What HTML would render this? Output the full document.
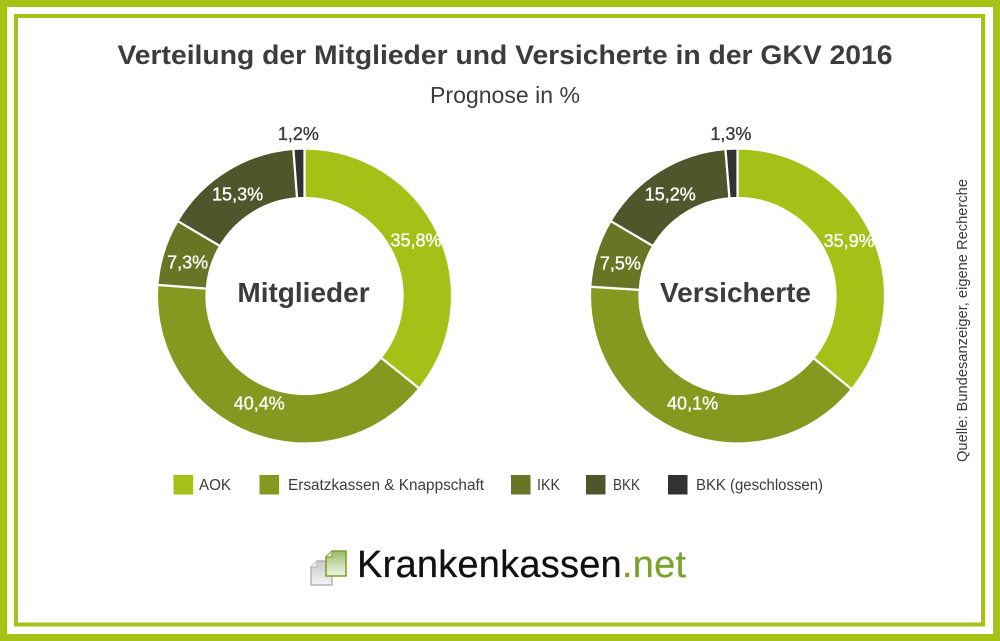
<!DOCTYPE html>
<html lang="de">
<head>
<meta charset="utf-8">
<title>Verteilung der Mitglieder und Versicherte in der GKV 2016</title>
<style>
html,body{margin:0;padding:0;background:#fff;width:1000px;height:641px;overflow:hidden}
svg{display:block}
text{font-family:"Liberation Sans",sans-serif}
</style>
</head>
<body>
<svg id="chart" width="1000" height="641" viewBox="0 0 1000 641" xmlns="http://www.w3.org/2000/svg">
  <defs>
    <linearGradient id="greenDoc" x1="0" y1="0" x2="0" y2="1"><stop offset="0" stop-color="#9dbb6c"/><stop offset="1" stop-color="#f2f6e8"/></linearGradient>
    <linearGradient id="greyDoc" x1="0" y1="0" x2="0" y2="1"><stop offset="0" stop-color="#c9c9c9"/><stop offset="1" stop-color="#f4f4f4"/></linearGradient>
  </defs>
  <rect width="1000" height="641" fill="#fff"/>
  <rect x="3.5" y="3.5" width="993" height="634" fill="none" stroke="#a5c316" stroke-width="7"/>
  <rect x="16" y="16" width="967" height="608.5" fill="none" stroke="#a5c316" stroke-width="4"/>

  <text x="505" y="64" text-anchor="middle" font-size="27" font-weight="700" fill="#3c3c3b" textLength="775" lengthAdjust="spacingAndGlyphs">Verteilung der Mitglieder und Versicherte in der GKV 2016</text>
  <text x="505" y="103" text-anchor="middle" font-size="23.5" fill="#3c3c3b" textLength="150" lengthAdjust="spacingAndGlyphs">Prognose in %</text>

  <g id="donuts"></g>
  <g id="legend"></g>

  <text transform="translate(967,462) rotate(-90)" font-size="14.5" fill="#3c3c3b" textLength="283" lengthAdjust="spacingAndGlyphs">Quelle: Bundesanzeiger, eigene Recherche</text>

  <g>
    <g>
      <path d="M317 561h15v24h-21v-18z" fill="url(#greyDoc)" stroke="#b4b4b4" stroke-width="1.5"/>
      <path d="M311 567h6v-6" fill="#eee" stroke="#b4b4b4" stroke-width="1"/>
      <path d="M332 551h14v25h-20v-19z" fill="url(#greenDoc)" stroke="#7f9f2c" stroke-width="1.6"/>
      <path d="M326 557h6v-6" fill="#dfe9c5" stroke="#7f9f2c" stroke-width="1"/>
    </g>
    <text x="357" y="577" font-size="38" fill="#111" stroke="#111" stroke-width="0.25" textLength="329" lengthAdjust="spacing">Krankenkassen<tspan fill="#7ba22e" stroke="#7ba22e">.net</tspan></text>
  </g>
</svg>
<script>
var categories = ["AOK", "Ersatzkassen & Knappschaft", "IKK", "BKK", "BKK (geschlossen)"];
var mitgliederValues = [35.8, 40.4, 7.3, 15.3, 1.2];
var versicherteValues = [35.9, 40.1, 7.5, 15.2, 1.3];
var mitgliederLabels = ["35,8%", "40,4%", "7,3%", "15,3%", "1,2%"];
var versicherteLabels = ["35,9%", "40,1%", "7,5%", "15,2%", "1,3%"];
var sliceColors = ["#a3c116", "#85981f", "#677525", "#4e572b", "#323232"];

var NS = "http://www.w3.org/2000/svg";
var R = 147.5, r = 98, cy = 296;

function polar(cx, radius, pct) {
  var a = pct / 100 * 2 * Math.PI;
  return [cx + radius * Math.sin(a), cy - radius * Math.cos(a)];
}
function arcPath(cx, from, to) {
  var large = (to - from) > 50 ? 1 : 0;
  var a = polar(cx, R, from), b = polar(cx, R, to), c = polar(cx, r, to), d = polar(cx, r, from);
  return "M" + a[0] + " " + a[1] + "A" + R + " " + R + " 0 " + large + " 1 " + b[0] + " " + b[1] +
         "L" + c[0] + " " + c[1] + "A" + r + " " + r + " 0 " + large + " 0 " + d[0] + " " + d[1] + "Z";
}
function drawDonut(root, cx, values, labels, title, titleX) {
  var nudgeX = [0.5, 0, 0.5, -2, 0];
  var nudgeY = [3.5, -1, 9.5, 9, 6];
  var g = document.createElementNS(NS, "g");
  
  
  root.appendChild(g);
  var total = values.reduce(function (s, v) { return s + v; }, 0);
  var acc = 0;
  values.forEach(function (v, i) {
    var from = acc / total * 100, to = (acc + v) / total * 100;
    acc += v;
    var p = document.createElementNS(NS, "path");
    p.setAttribute("d", arcPath(cx, from, to));
    p.setAttribute("fill", sliceColors[i]);
    p.setAttribute("stroke", "#fff");
    p.setAttribute("stroke-width", "2.2");
    
    
    g.appendChild(p);

    var mid = (from + to) / 2;
    var outside = i === 4;
    var pos = polar(cx, outside ? 162 : 123, mid);
    var color = outside ? "#3c3c3b" : "#ffffff";
    var t = document.createElementNS(NS, "text");
    t.setAttribute("x", pos[0] + nudgeX[i]);
    t.setAttribute("y", pos[1] + nudgeY[i]);
    t.setAttribute("text-anchor", "middle");
    t.setAttribute("font-size", "18");
    t.setAttribute("fill", color);
    t.setAttribute("stroke", color);
    t.setAttribute("stroke-width", "0.35");
    
    
    t.textContent = labels[i];
    g.appendChild(t);
  });
  var c = document.createElementNS(NS, "text");
  c.setAttribute("x", titleX);
  c.setAttribute("y", cy + 6);
  c.setAttribute("text-anchor", "middle");
  c.setAttribute("font-size", "28");
  c.setAttribute("font-weight", "700");
  c.setAttribute("fill", "#3c3c3b");
  
  
  c.textContent = title;
  g.appendChild(c);
}
var donuts = document.getElementById("donuts");
drawDonut(donuts, 304.5, mitgliederValues, mitgliederLabels, "Mitglieder", 303.5);
drawDonut(donuts, 737.5, versicherteValues, versicherteLabels, "Versicherte", 735.5);

function drawLegend(root) {
  var swatchLeft = [173.5, 259.5, 511, 586, 668];
  var labelLeft = [199, 288, 537, 613, 696];
  var labelWidth = [32, 196, 23, 27, 127];
  categories.forEach(function (name, i) {
    var e = document.createElementNS(NS, "g");
    
    
    root.appendChild(e);
    var s = document.createElementNS(NS, "rect");
    s.setAttribute("x", swatchLeft[i]);
    s.setAttribute("y", 475);
    s.setAttribute("width", 19.5);
    s.setAttribute("height", 19.5);
    s.setAttribute("fill", sliceColors[i]);
    
    
    e.appendChild(s);
    var t = document.createElementNS(NS, "text");
    t.setAttribute("x", labelLeft[i]);
    t.setAttribute("y", 490);
    t.setAttribute("font-size", "15.5");
    t.setAttribute("fill", "#3c3c3b");
    t.setAttribute("textLength", labelWidth[i]);
    t.setAttribute("lengthAdjust", "spacingAndGlyphs");
    
    
    t.textContent = name;
    e.appendChild(t);
  });
}
drawLegend(document.getElementById("legend"));
</script>
</body>
</html>
